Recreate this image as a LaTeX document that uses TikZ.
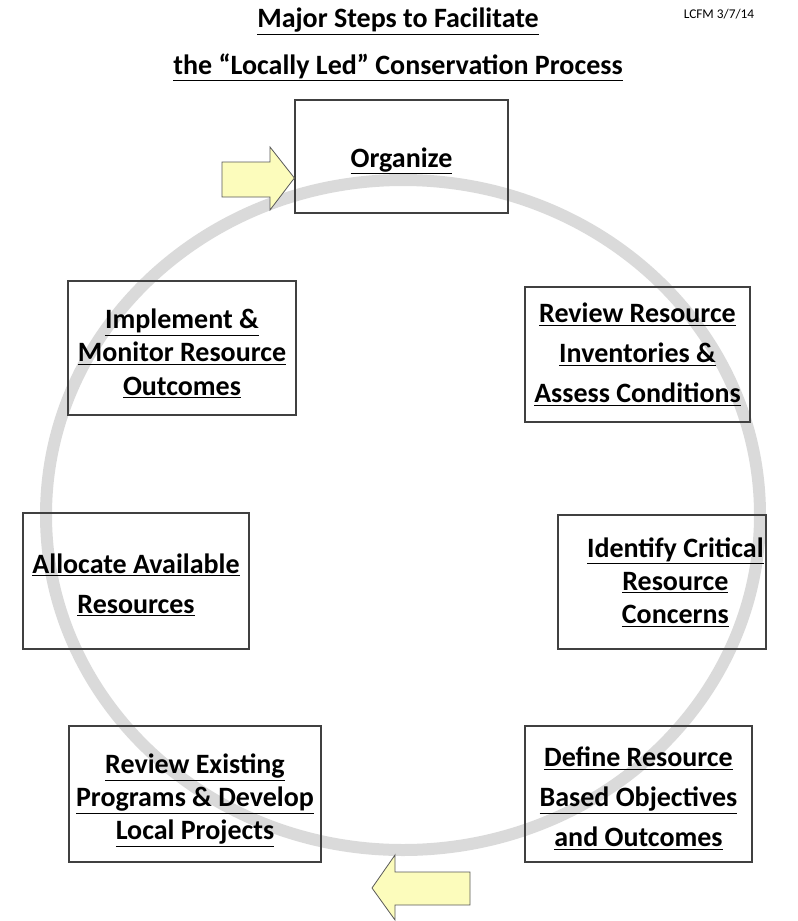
\documentclass[tikz,border=0pt]{standalone}
\usepackage{fontspec}
\setmainfont{Carlito}
\usetikzlibrary{positioning}

\definecolor{arrowfill}{RGB}{252,252,188}
\definecolor{ringgray}{RGB}{218,218,218}

% line set a little right of the box centre
\newcommand{\offline}[1]{\hspace*{20pt}\makebox[0pt]{\underline{#1}}}
% taller first line, pushes the text down
\newcommand{\lift}[1]{\rule{0pt}{#1}}

\begin{document}
\begin{tikzpicture}[x=0.75pt, y=-0.75pt,
    stepbox/.style={rectangle, draw=black!75, line width=0.9pt, align=center,
      font=\fontsize{21}{30}\selectfont\bfseries, inner sep=0pt},
    tightbox/.style={stepbox, font=\fontsize{21}{25}\selectfont\bfseries},
    titletext/.style={font=\fontsize{21}{35.25}\selectfont\bfseries, align=center},
    ring/.style={draw=ringgray, line width=9pt},
    bigarrow/.style={draw=black!65, line width=0.6pt, fill=arrowfill}
  ]
    \useasboundingbox (0,0) rectangle (797,921);

    % cycle ring
    \draw[ring] (403,515) ellipse [x radius=357, y radius=335];

    % title
    \node[titletext] (title) at (398,44.5)
      {\underline{Major Steps to Facilitate}\\\underline{the ``Locally Led'' Conservation Process}};
    \node[font=\fontsize{10}{11}\selectfont] (date) at (719,14) {LCFM 3/7/14};

    % steps
    \node[stepbox, minimum width=159.75pt, minimum height=84.75pt] (organize) at (401.5,156.5)
      {\lift{21.5pt}\underline{Organize}};
    \node[stepbox, minimum width=168.75pt, minimum height=101.25pt] (inventory) at (637.5,354.5)
      {\underline{Review Resource}\\\underline{Inventories \&}\\\underline{Assess Conditions}};
    \node[tightbox, minimum width=156pt, minimum height=100.5pt] (concerns) at (662,582)
      {\offline{Identify Critical}\\\offline{Resource}\\\offline{Concerns}};
    \node[stepbox, minimum width=170.25pt, minimum height=102pt] (objectives) at (638.5,794)
      {\lift{21.5pt}\underline{Define Resource}\\\underline{Based Objectives}\\\underline{and Outcomes}};
    \node[tightbox, minimum width=189pt, minimum height=102pt] (programs) at (195,794)
      {\lift{24.5pt}\underline{Review Existing}\\\underline{Programs \& Develop}\\\underline{Local Projects}};
    \node[stepbox, minimum width=169.5pt, minimum height=102pt] (allocate) at (136,581)
      {\lift{20.5pt}\underline{Allocate Available}\\\underline{Resources}};
    \node[tightbox, minimum width=171pt, minimum height=100.5pt] (implement) at (182,348)
      {\lift{23pt}\underline{Implement \&}\\\underline{Monitor Resource}\\\underline{Outcomes}};

    % entry and exit arrows
    \draw[bigarrow] (222,162) -- (270,162) -- (270,147) -- (organize.west |- 0,178)
      -- (270,210) -- (270,197) -- (222,197) -- cycle;
    \draw[bigarrow] (470,872) -- (395,872) -- (395,855) -- (372,888)
      -- (395,920) -- (395,905) -- (470,905) -- cycle;
\end{tikzpicture}
\end{document}
